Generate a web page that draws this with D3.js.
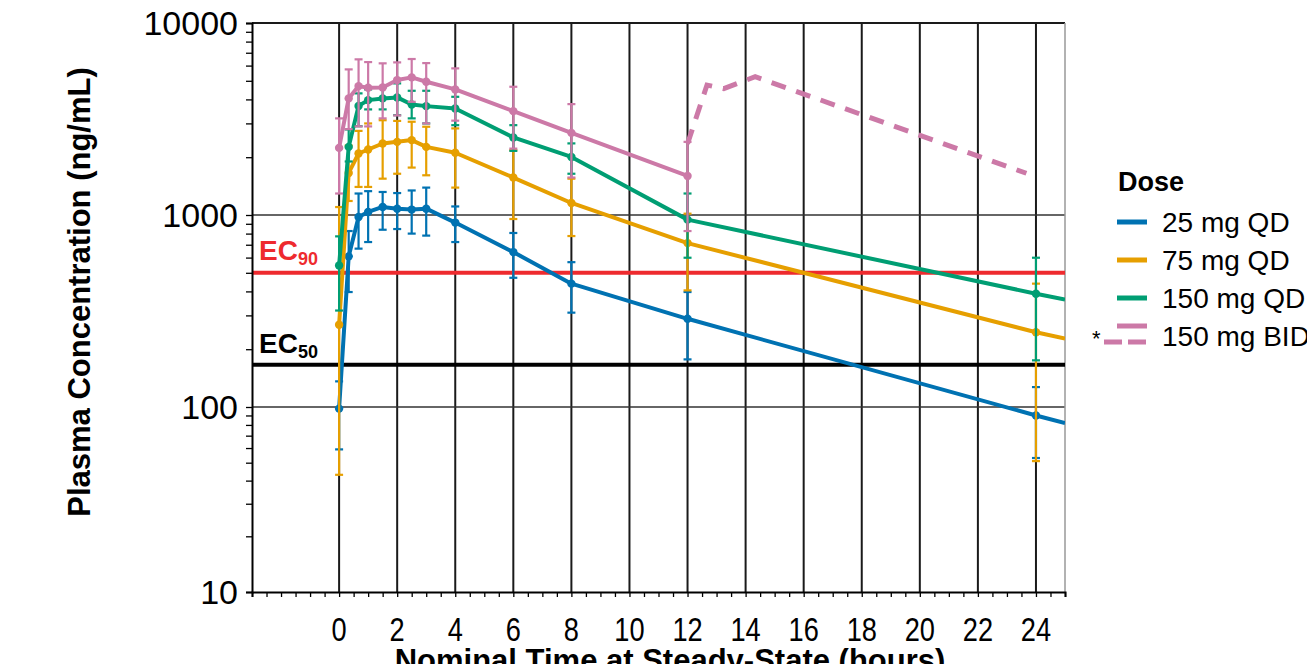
<!DOCTYPE html>
<html>
<head>
<meta charset="utf-8">
<script src="https://cdn.jsdelivr.net/npm/d3@7/dist/d3.min.js"></script>
<style>
  body { margin: 0; background: #fff; }
  text { font-family: "Liberation Sans", Arial, sans-serif; }
</style>
</head>
<body>
<svg id="chart"></svg>
<script>
// sampling times (hours) and dose groups
var times = [0, 0.33, 0.67, 1, 1.5, 2, 2.5, 3, 4, 6, 8, 12, 24];
var doses = ['25 mg QD', '75 mg QD', '150 mg QD', '150 mg BID'];
var colors = ['#0072b2', '#e69f00', '#009e73', '#cc79a7'];

// mean concentrations (ng/mL) with upper / lower error bar ends
var mean25 = [98, 609, 976, 1037, 1101, 1079, 1067, 1079, 913, 641, 439, 288, 90];
var hi25   = [136, 825, 1294, 1331, 1318, 1301, 1342, 1389, 1108, 806, 568, 397, 127];
var lo25   = [59, 397, 668, 723, 838, 845, 800, 781, 723, 471, 310, 177, 53];

var mean75 = [268, 1656, 2091, 2193, 2357, 2404, 2455, 2263, 2110, 1567, 1155, 714, 245];
var hi75   = [1100, 2300, 2742, 2998, 3116, 3090, 3060, 2882, 2825, 2175, 1546, 1016, 439];
var lo75   = [43, 1183, 1400, 1400, 1546, 1640, 1766, 1610, 1389, 953, 777, 405, 51];

var mean150 = [546, 2263, 3700, 3966, 4049, 4097, 3766, 3690, 3589, 2535, 2007, 946, 389];
var hi150   = [774, 2790, 4300, 4508, 4618, 4846, 4436, 4436, 4127, 2937, 2360, 1294, 599];
var lo150   = [318, 1900, 2900, 3548, 3548, 3311, 3186, 2998, 2937, 2158, 1640, 599, 175];

// BID only sampled up to 12 h
var meanBID = [2236, 4049, 4691, 4596, 4618, 5043, 5208, 4941, 4508, 3475, 2678, 1598];
var hiBID   = [3186, 5733, 6467, 6259, 6165, 6235, 6493, 6183, 5803, 4655, 3780, 2404];
var loBID   = [1294, 2800, 2893, 2893, 3186, 3300, 3886, 2998, 3100, 2217, 1567, 825];

// projected second BID dose (dashed)
var bidTimes  = [12, 12.67, 13.25, 14.33, 23.67];
var bidValues = [2350, 4750, 4550, 5250, 1650];

// where the QD lines leave the plot on the right
var edgeTime = 25;
var edgeValues = [82, 227, 363];

var ec90 = 500, ec50 = 166;
var xTicks = d3.range(0, 25, 2);
var yTicks = [10, 100, 1000, 10000];

var width = 1307, height = 664;
var plotLeft = 252, plotRight = 1065, plotTop = 23, plotBottom = 592;

var svg = d3.select('#chart').attr('width', width).attr('height', height);

var x = d3.scaleLinear().domain([-3, 25]).range([plotLeft, plotRight]);
// the lowest decade is drawn a little shorter in the original
var y = d3.scaleLog().domain([10, 100, 10000]).range([plotBottom, 407, plotTop]);

// minor y ticks
var yMinor = [];
[10, 100, 1000].forEach(function (d) {
  for (var k = 2; k <= 9; k++) yMinor.push(d * k);
});

svg.append('rect').attr('width', width).attr('height', height).attr('fill', '#fff');

// grid
svg.append('g').selectAll('line').data(xTicks).enter().append('line')
  .attr('x1', d => x(d)).attr('x2', d => x(d))
  .attr('y1', plotTop).attr('y2', plotBottom)
  .attr('stroke', '#1a1a1a').attr('stroke-width', 2);

svg.append('g').selectAll('line').data([100, 1000]).enter().append('line')
  .attr('x1', plotLeft).attr('x2', plotRight)
  .attr('y1', d => y(d)).attr('y2', d => y(d))
  .attr('stroke', '#333').attr('stroke-width', 1.6);

// frame top / right
svg.append('line').attr('x1', plotLeft).attr('x2', plotRight).attr('y1', plotTop).attr('y2', plotTop)
  .attr('stroke', '#1a1a1a').attr('stroke-width', 2);
svg.append('line').attr('x1', plotRight).attr('x2', plotRight).attr('y1', plotTop).attr('y2', plotBottom)
  .attr('stroke', '#999').attr('stroke-width', 1.5);

// EC reference lines
svg.append('line').attr('x1', plotLeft).attr('x2', plotRight).attr('y1', y(ec90)).attr('y2', y(ec90))
  .attr('stroke', '#ee2a2e').attr('stroke-width', 4);
svg.append('line').attr('x1', plotLeft).attr('x2', plotRight).attr('y1', y(ec50)).attr('y2', y(ec50))
  .attr('stroke', '#000').attr('stroke-width', 4);

var ec90Label = svg.append('text').attr('x', 259).attr('y', y(ec90) - 13)
  .attr('fill', '#ee2a2e').attr('font-weight', 'bold').attr('font-size', 28);
ec90Label.append('tspan').text('EC');
ec90Label.append('tspan').attr('font-size', 18).attr('dy', 5).text('90');

var ec50Label = svg.append('text').attr('x', 259).attr('y', y(ec50) - 12)
  .attr('fill', '#000').attr('font-weight', 'bold').attr('font-size', 28);
ec50Label.append('tspan').text('EC');
ec50Label.append('tspan').attr('font-size', 18).attr('dy', 5).text('50');

// axes
var xAxis = d3.axisBottom(x).tickValues(d3.range(-3, 25.01, 0.5)).tickSize(5).tickFormat('');
svg.append('g').attr('transform', 'translate(0,' + plotBottom + ')').call(xAxis)
  .call(g => g.selectAll('line').attr('stroke', '#000').attr('stroke-width', 1.3))
  .call(g => g.select('.domain').attr('stroke', '#000').attr('stroke-width', 2));

svg.append('g').selectAll('text').data(xTicks).enter().append('text')
  .attr('transform', d => 'translate(' + x(d) + ',641) scale(0.8,1)')
  .attr('text-anchor', 'middle').attr('font-size', 34).attr('fill', '#000')
  .text(d => d);

var yAxis = d3.axisLeft(y).tickValues(yMinor.concat(yTicks)).tickSize(6).tickFormat('');
svg.append('g').attr('transform', 'translate(' + plotLeft + ',0)').call(yAxis)
  .call(g => g.selectAll('line').attr('stroke', '#000').attr('stroke-width', 1.3))
  .call(g => g.select('.domain').attr('stroke', '#000').attr('stroke-width', 2));

svg.append('g').selectAll('text').data(yTicks).enter().append('text')
  .attr('x', plotLeft - 14).attr('y', d => y(d) + 12)
  .attr('text-anchor', 'end').attr('font-size', 34).attr('fill', '#000')
  .text(d => d);

svg.append('text')
  .attr('transform', 'translate(90,292) rotate(-90)')
  .attr('text-anchor', 'middle').attr('font-weight', 'bold').attr('font-size', 31)
  .text('Plasma Concentration (ng/mL)');

svg.append('text').attr('x', 670).attr('y', 671)
  .attr('text-anchor', 'middle').attr('font-weight', 'bold').attr('font-size', 31)
  .text('Nominal Time at Steady-State (hours)');

// series
svg.append('clipPath').attr('id', 'plot-clip').append('rect')
  .attr('x', plotLeft).attr('y', plotTop - 10).attr('width', plotRight - plotLeft)
  .attr('height', plotBottom - plotTop + 10);

var series = [
  { mean: mean25, hi: hi25, lo: lo25, edge: edgeValues[0] },
  { mean: mean75, hi: hi75, lo: lo75, edge: edgeValues[1] },
  { mean: mean150, hi: hi150, lo: lo150, edge: edgeValues[2] },
  { mean: meanBID, hi: hiBID, lo: loBID, edge: null }
];

var line = d3.line().x(d => x(d[0])).y(d => y(d[1]));
var plot = svg.append('g').attr('clip-path', 'url(#plot-clip)');

// projected BID profile
plot.append('path')
  .attr('d', line(bidTimes.map((t, i) => [t, bidValues[i]])))
  .attr('fill', 'none').attr('stroke', colors[3]).attr('stroke-width', 5)
  .attr('stroke-dasharray', '15,11');

series.forEach(function (s, si) {
  var pts = s.mean.map((v, i) => [times[i], v]);
  var g = plot.append('g');
  g.selectAll('.bar').data(pts).enter().append('line')
    .attr('x1', d => x(d[0])).attr('x2', d => x(d[0]))
    .attr('y1', (d, i) => y(s.hi[i])).attr('y2', (d, i) => y(s.lo[i]))
    .attr('stroke', colors[si]).attr('stroke-width', 2.2);
  [s.hi, s.lo].forEach(function (arr) {
    g.selectAll(null).data(pts).enter().append('line')
      .attr('x1', d => x(d[0]) - 4).attr('x2', d => x(d[0]) + 4)
      .attr('y1', (d, i) => y(arr[i])).attr('y2', (d, i) => y(arr[i]))
      .attr('stroke', colors[si]).attr('stroke-width', 2.2);
  });
  var linePts = s.edge ? pts.concat([[edgeTime, s.edge]]) : pts;
  g.append('path').attr('d', line(linePts))
    .attr('fill', 'none').attr('stroke', colors[si]).attr('stroke-width', 4)
    .attr('stroke-linejoin', 'round');
  g.selectAll('circle').data(pts).enter().append('circle')
    .attr('cx', d => x(d[0])).attr('cy', d => y(d[1])).attr('r', 4.2)
    .attr('fill', colors[si]);
});

// legend
var legend = svg.append('g');
legend.append('text').attr('x', 1118).attr('y', 191)
  .attr('font-weight', 'bold').attr('font-size', 27).text('Dose');
var legY = [222, 260, 298, 336];
doses.forEach(function (d, i) {
  if (i < 3) {
    legend.append('line').attr('x1', 1117).attr('x2', 1147)
      .attr('y1', legY[i]).attr('y2', legY[i])
      .attr('stroke', colors[i]).attr('stroke-width', 5);
  } else {
    legend.append('line').attr('x1', 1117).attr('x2', 1147)
      .attr('y1', legY[i] - 10).attr('y2', legY[i] - 10)
      .attr('stroke', colors[i]).attr('stroke-width', 5);
    legend.append('line').attr('x1', 1104).attr('x2', 1147)
      .attr('y1', legY[i] + 6).attr('y2', legY[i] + 6)
      .attr('stroke', colors[i]).attr('stroke-width', 5).attr('stroke-dasharray', '18,6');
    legend.append('text').attr('x', 1092).attr('y', legY[i] + 10)
      .attr('font-size', 22).text('*');
  }
  legend.append('text').attr('x', 1162).attr('y', legY[i] + 10)
    .attr('font-size', 28).attr('fill', '#000').text(d);
});
</script>
</body>
</html>
